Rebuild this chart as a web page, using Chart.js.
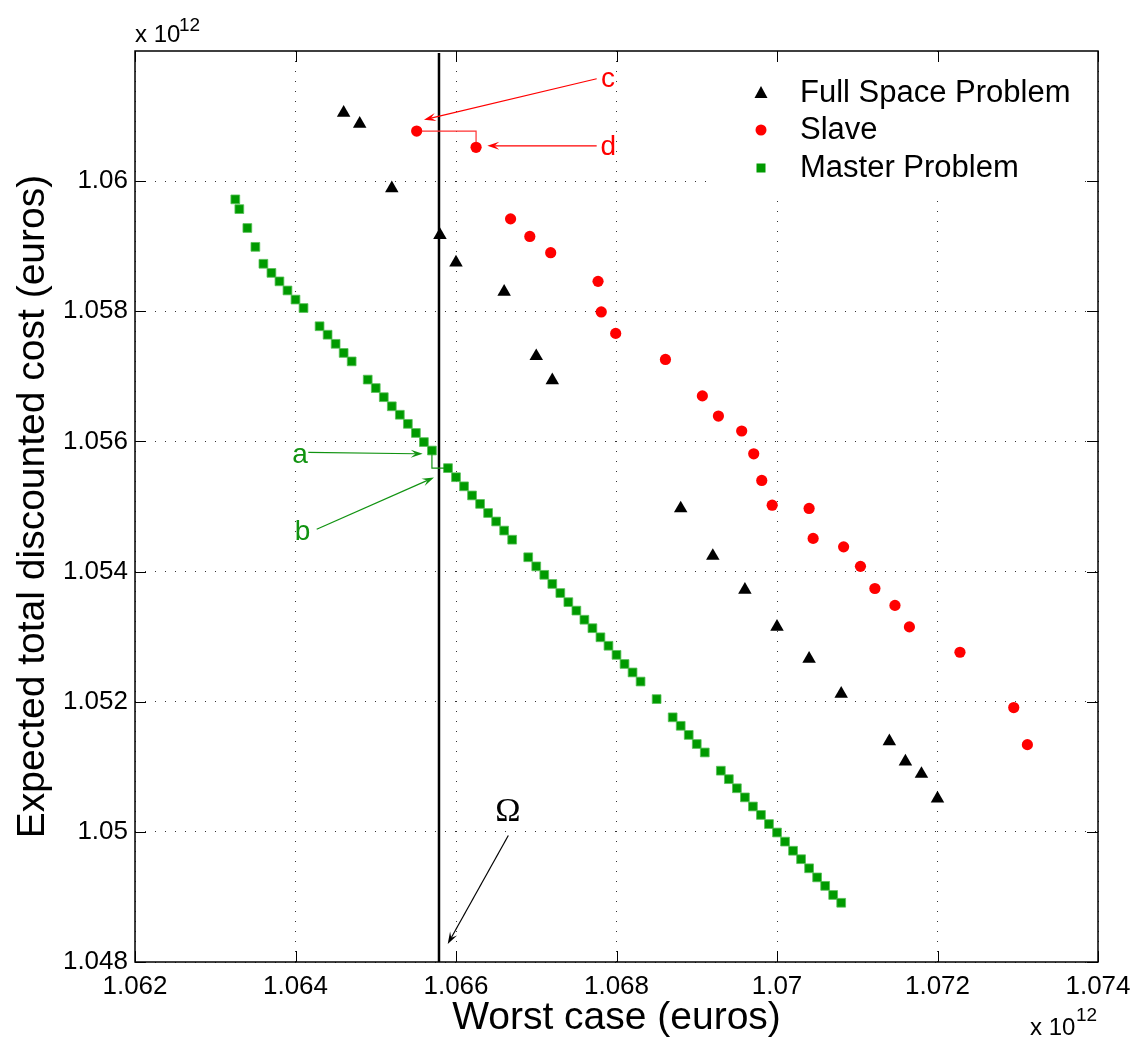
<!DOCTYPE html>
<html>
<head>
<meta charset="utf-8">
<script src="https://cdn.jsdelivr.net/npm/chart.js@4.4.0/dist/chart.umd.min.js"></script>
<style>
  html, body { margin: 0; padding: 0; background: #fff; }
</style>
</head>
<body>
<canvas id="chartScatter" width="1133" height="1038"></canvas>
<script>
// values are in units of 10^12 euros
const fullSpaceX = [1.0646, 1.0648, 1.0652, 1.0658, 1.0660, 1.0666, 1.0670, 1.0672, 1.0688, 1.0692,
  1.0696, 1.0700, 1.0704, 1.0708, 1.0714, 1.0716, 1.0718, 1.0720];
const fullSpaceY = [1.06105, 1.06088, 1.05989, 1.05917, 1.05875, 1.05830, 1.05731, 1.05694, 1.05497, 1.05424,
  1.05372, 1.05315, 1.05266, 1.05212, 1.05139, 1.05108, 1.05089, 1.05051];

const slaveX = [1.06551, 1.06625, 1.06668, 1.06692, 1.06718, 1.06777, 1.06781, 1.06799, 1.06861, 1.06907,
  1.06927, 1.06956, 1.06971, 1.06981, 1.06994, 1.0704, 1.07045, 1.07083, 1.07104, 1.07122,
  1.07147, 1.07165, 1.07228, 1.07295, 1.07312];
const slaveY = [1.06077, 1.06052, 1.05942, 1.05915, 1.0589, 1.05846, 1.05799, 1.05766, 1.05726, 1.0567,
  1.05639, 1.05616, 1.05581, 1.0554, 1.05502, 1.05497, 1.05451, 1.05438, 1.05408, 1.05374,
  1.05348, 1.05315, 1.05276, 1.05191, 1.05134];

const masterX = [1.06325, 1.0633, 1.0634, 1.0635, 1.0636, 1.0637, 1.0638, 1.0639, 1.064, 1.0641,
  1.0643, 1.0644, 1.0645, 1.0646, 1.0647, 1.0649, 1.065, 1.0651, 1.0652, 1.0653,
  1.0654, 1.0655, 1.0656, 1.0657, 1.0659, 1.066, 1.0661, 1.0662, 1.0663, 1.0664,
  1.0665, 1.0666, 1.0667, 1.0669, 1.067, 1.0671, 1.0672, 1.0673, 1.0674, 1.0675,
  1.0676, 1.0677, 1.0678, 1.0679, 1.068, 1.0681, 1.0682, 1.0683, 1.0685, 1.0687,
  1.0688, 1.0689, 1.069, 1.0691, 1.0693, 1.0694, 1.0695, 1.0696, 1.0697, 1.0698,
  1.0699, 1.07, 1.0701, 1.0702, 1.0703, 1.0704, 1.0705, 1.0706, 1.0707, 1.0708];
const masterY = [1.05972, 1.05957, 1.05928, 1.05899, 1.05873, 1.05859, 1.05846, 1.05832, 1.05818, 1.05805,
  1.05777, 1.05764, 1.0575, 1.05736, 1.05723, 1.05695, 1.05682, 1.05668, 1.05654, 1.05641,
  1.05627, 1.05613, 1.05599, 1.05586, 1.05559, 1.05545, 1.05531, 1.05517, 1.05504, 1.0549,
  1.05477, 1.05463, 1.05449, 1.05422, 1.05408, 1.05395, 1.05381, 1.05367, 1.05353, 1.0534,
  1.05326, 1.05313, 1.05299, 1.05286, 1.05272, 1.05258, 1.05245, 1.05231, 1.05204, 1.05176,
  1.05163, 1.05149, 1.05135, 1.05122, 1.05094, 1.05081, 1.05067, 1.05053, 1.05039, 1.05026,
  1.05012, 1.04999, 1.04985, 1.04971, 1.04958, 1.04944, 1.0493, 1.04917, 1.04903, 1.04891];

const xTicks = [1.062, 1.064, 1.066, 1.068, 1.07, 1.072, 1.074];
const xTickLabels = ['1.062', '1.064', '1.066', '1.068', '1.07', '1.072', '1.074'];
const yTicks = [1.048, 1.05, 1.052, 1.054, 1.056, 1.058, 1.06];
const yTickLabels = ['1.048', '1.05', '1.052', '1.054', '1.056', '1.058', '1.06'];

// annotations, in data units
const omegaLineX = 1.065788;
const omegaLabel = {text: '\u03A9', x: 1.066648, y: 1.05030};
const textLabels = [
  {text: 'a', x: 1.064056, y: 1.05579, color: '#119311'},
  {text: 'b', x: 1.064087, y: 1.05461, color: '#119311'},
  {text: 'c', x: 1.067894, y: 1.06156, color: '#ff0000'},
  {text: 'd', x: 1.067898, y: 1.06052, color: '#ff0000'}
];
const arrowList = [
  {from: [1.066652, 1.049943], to: [1.065897, 1.048277], color: '#000000'},
  {from: [1.06416, 1.055831], to: [1.065585, 1.055809], color: '#119311'},
  {from: [1.064264, 1.054651], to: [1.065726, 1.055446], color: '#119311'},
  {from: [1.067753, 1.061574], to: [1.065601, 1.060943], color: '#ff0000'},
  {from: [1.067753, 1.060543], to: [1.06639, 1.060543], color: '#ff0000'}
];

const FONT = "'Liberation Sans', Arial, Helvetica, sans-serif";

function toPoints(xs, ys) {
  return xs.map((v, i) => ({x: v, y: ys[i]}));
}

function drawArrow(ctx, x0, y0, x1, y1, color) {
  const ang = Math.atan2(y1 - y0, x1 - x0);
  const len = 12, half = 4;
  ctx.save();
  ctx.strokeStyle = color;
  ctx.fillStyle = color;
  ctx.lineWidth = 1.2;
  ctx.beginPath();
  ctx.moveTo(x0, y0);
  ctx.lineTo(x1 - Math.cos(ang) * len * 0.6, y1 - Math.sin(ang) * len * 0.6);
  ctx.stroke();
  ctx.translate(x1, y1);
  ctx.rotate(ang);
  ctx.beginPath();
  ctx.moveTo(0, 0);
  ctx.lineTo(-len, -half);
  ctx.lineTo(-len * 0.6, 0);
  ctx.lineTo(-len, half);
  ctx.closePath();
  ctx.fill();
  ctx.restore();
}

const legendBox = {left: 715, top: 55, right: 1083, bottom: 192};

const matlabLook = {
  id: 'matlabLook',
  beforeDatasetsDraw(chart) {
    const {ctx, chartArea: area, scales: {x, y}} = chart;
    // legend background hides the grid
    ctx.save();
    ctx.fillStyle = '#fff';
    ctx.fillRect(legendBox.left, legendBox.top, legendBox.right - legendBox.left, legendBox.bottom - legendBox.top);
    // vertical line
    const lx = x.getPixelForValue(omegaLineX);
    ctx.strokeStyle = '#000';
    ctx.lineWidth = 2.5;
    ctx.beginPath();
    ctx.moveTo(lx, area.top + 2);
    ctx.lineTo(lx, area.bottom);
    ctx.stroke();
    ctx.restore();
  },
  afterDatasetsDraw(chart) {
    const {ctx, scales: {x, y}} = chart;
    const px = v => x.getPixelForValue(v);
    const py = v => y.getPixelForValue(v);
    ctx.save();
    // connectors between the marked points
    ctx.lineWidth = 1.2;
    ctx.strokeStyle = '#119311';
    ctx.beginPath();
    ctx.moveTo(px(masterX[23]), py(masterY[23]) + 4);
    ctx.lineTo(px(masterX[23]), py(masterY[24]));
    ctx.lineTo(px(masterX[24]) - 4, py(masterY[24]));
    ctx.stroke();
    ctx.strokeStyle = '#ff3030';
    ctx.beginPath();
    ctx.moveTo(px(slaveX[0]) + 5, py(slaveY[0]));
    ctx.lineTo(px(slaveX[1]), py(slaveY[0]));
    ctx.lineTo(px(slaveX[1]), py(slaveY[1]) - 5);
    ctx.stroke();
    arrowList.forEach(a => drawArrow(ctx, px(a.from[0]), py(a.from[1]), px(a.to[0]), py(a.to[1]), a.color));
    ctx.textAlign = 'center';
    ctx.textBaseline = 'middle';
    ctx.font = '28px ' + FONT;
    textLabels.forEach(t => {
      ctx.fillStyle = t.color;
      ctx.fillText(t.text, px(t.x), py(t.y));
    });
    ctx.fillStyle = '#000';
    ctx.font = "34px 'Liberation Serif', 'Times New Roman', serif";
    ctx.fillText(omegaLabel.text, px(omegaLabel.x), py(omegaLabel.y));
    ctx.restore();
  },
  afterDraw(chart) {
    const {ctx, chartArea: area, scales: {x, y}} = chart;
    ctx.save();
    // axes box and inward ticks on all sides
    ctx.strokeStyle = '#000';
    ctx.lineWidth = 1.5;
    ctx.strokeRect(area.left, area.top, area.right - area.left, area.bottom - area.top);
    ctx.lineWidth = 1;
    ctx.beginPath();
    xTicks.forEach(v => {
      const p = Math.round(x.getPixelForValue(v)) + 0.5;
      ctx.moveTo(p, area.bottom); ctx.lineTo(p, area.bottom - 11);
      ctx.moveTo(p, area.top); ctx.lineTo(p, area.top + 11);
    });
    yTicks.forEach(v => {
      const p = Math.round(y.getPixelForValue(v)) + 0.5;
      ctx.moveTo(area.left, p); ctx.lineTo(area.left + 11, p);
      ctx.moveTo(area.right, p); ctx.lineTo(area.right - 11, p);
    });
    ctx.stroke();

    // exponent labels
    ctx.fillStyle = '#000';
    ctx.textBaseline = 'alphabetic';
    ctx.textAlign = 'left';
    ctx.font = '24px ' + FONT;
    ctx.fillText('x 10', 135, 42);
    ctx.font = '19px ' + FONT;
    ctx.fillText('12', 179, 31);
    ctx.font = '24px ' + FONT;
    ctx.fillText('x 10', 1030, 1035);
    ctx.font = '19px ' + FONT;
    ctx.fillText('12', 1076, 1021);

    // legend
    const rows = [
      {label: chart.data.datasets[0].label, y: 93},
      {label: chart.data.datasets[1].label, y: 130},
      {label: chart.data.datasets[2].label, y: 168}
    ];
    const mx = 761;
    ctx.fillStyle = '#000';
    ctx.beginPath();
    ctx.moveTo(mx, rows[0].y - 7);
    ctx.lineTo(mx + 6.5, rows[0].y + 5);
    ctx.lineTo(mx - 6.5, rows[0].y + 5);
    ctx.closePath();
    ctx.fill();
    ctx.fillStyle = '#ff0000';
    ctx.beginPath();
    ctx.arc(mx, rows[1].y, 5.5, 0, Math.PI * 2);
    ctx.fill();
    ctx.fillStyle = '#009a00';
    ctx.fillRect(mx - 4.5, rows[2].y - 4.5, 9, 9);
    ctx.fillStyle = '#000';
    ctx.font = '31px ' + FONT;
    ctx.textBaseline = 'middle';
    rows.forEach(r => ctx.fillText(r.label, 800, r.y));
    ctx.restore();
  }
};

const ctxScatter = document.getElementById('chartScatter');
const chartScatter = new Chart(ctxScatter, {
  type: 'scatter',
  data: {
    datasets: [
      {
        label: 'Full Space Problem',
        data: toPoints(fullSpaceX, fullSpaceY),
        pointStyle: 'triangle',
        pointRadius: 7.8,
        backgroundColor: '#000000',
        borderColor: '#000000',
        borderWidth: 0
      },
      {
        label: 'Slave',
        data: toPoints(slaveX, slaveY),
        pointStyle: 'circle',
        pointRadius: 5.6,
        backgroundColor: '#ff0000',
        borderColor: '#ff0000',
        borderWidth: 0
      },
      {
        label: 'Master Problem',
        data: toPoints(masterX, masterY),
        pointStyle: 'rect',
        pointRadius: 6.2,
        backgroundColor: '#009a00',
        borderColor: '#55c055',
        borderWidth: 0.8
      }
    ]
  },
  options: {
    responsive: false,
    animation: false,
    devicePixelRatio: 1,
    layout: {
      padding: {top: 51, right: 35, left: 0, bottom: 0}
    },
    plugins: {
      legend: {display: false},
      tooltip: {enabled: false},
      title: {display: false}
    },
    scales: {
      x: {
        type: 'linear',
        min: 1.062,
        max: 1.074,
        afterBuildTicks: scale => { scale.ticks = xTicks.map(v => ({value: v})); },
        afterFit: scale => { scale.height = 76; scale.paddingLeft = 0; scale.paddingRight = 0; },
        ticks: {
          autoSkip: false,
          maxRotation: 0,
          padding: 9,
          color: '#000',
          font: {family: FONT, size: 26},
          callback: (value, i) => xTickLabels[i]
        },
        grid: {color: '#333', lineWidth: 1, drawTicks: false},
        border: {display: false, dash: [1, 9]},
        title: {
          display: true,
          text: 'Worst case (euros)',
          color: '#000',
          font: {family: FONT, size: 39, lineHeight: 1},
          padding: {top: 0, bottom: 0}
        }
      },
      y: {
        type: 'linear',
        min: 1.048,
        max: 1.062,
        afterBuildTicks: scale => { scale.ticks = yTicks.map(v => ({value: v})); },
        afterFit: scale => { scale.width = 135; scale.paddingTop = 0; scale.paddingBottom = 0; },
        ticks: {
          autoSkip: false,
          padding: 7,
          color: '#000',
          font: {family: FONT, size: 26},
          callback: (value, i) => yTickLabels[i]
        },
        grid: {color: '#333', lineWidth: 1, drawTicks: false},
        border: {display: false, dash: [1, 9]},
        title: {
          display: true,
          text: 'Expected total discounted cost (euros)',
          color: '#000',
          font: {family: FONT, size: 39, lineHeight: 1},
          padding: {top: 14, bottom: 0}
        }
      }
    }
  },
  plugins: [matlabLook]
});
</script>
</body>
</html>
